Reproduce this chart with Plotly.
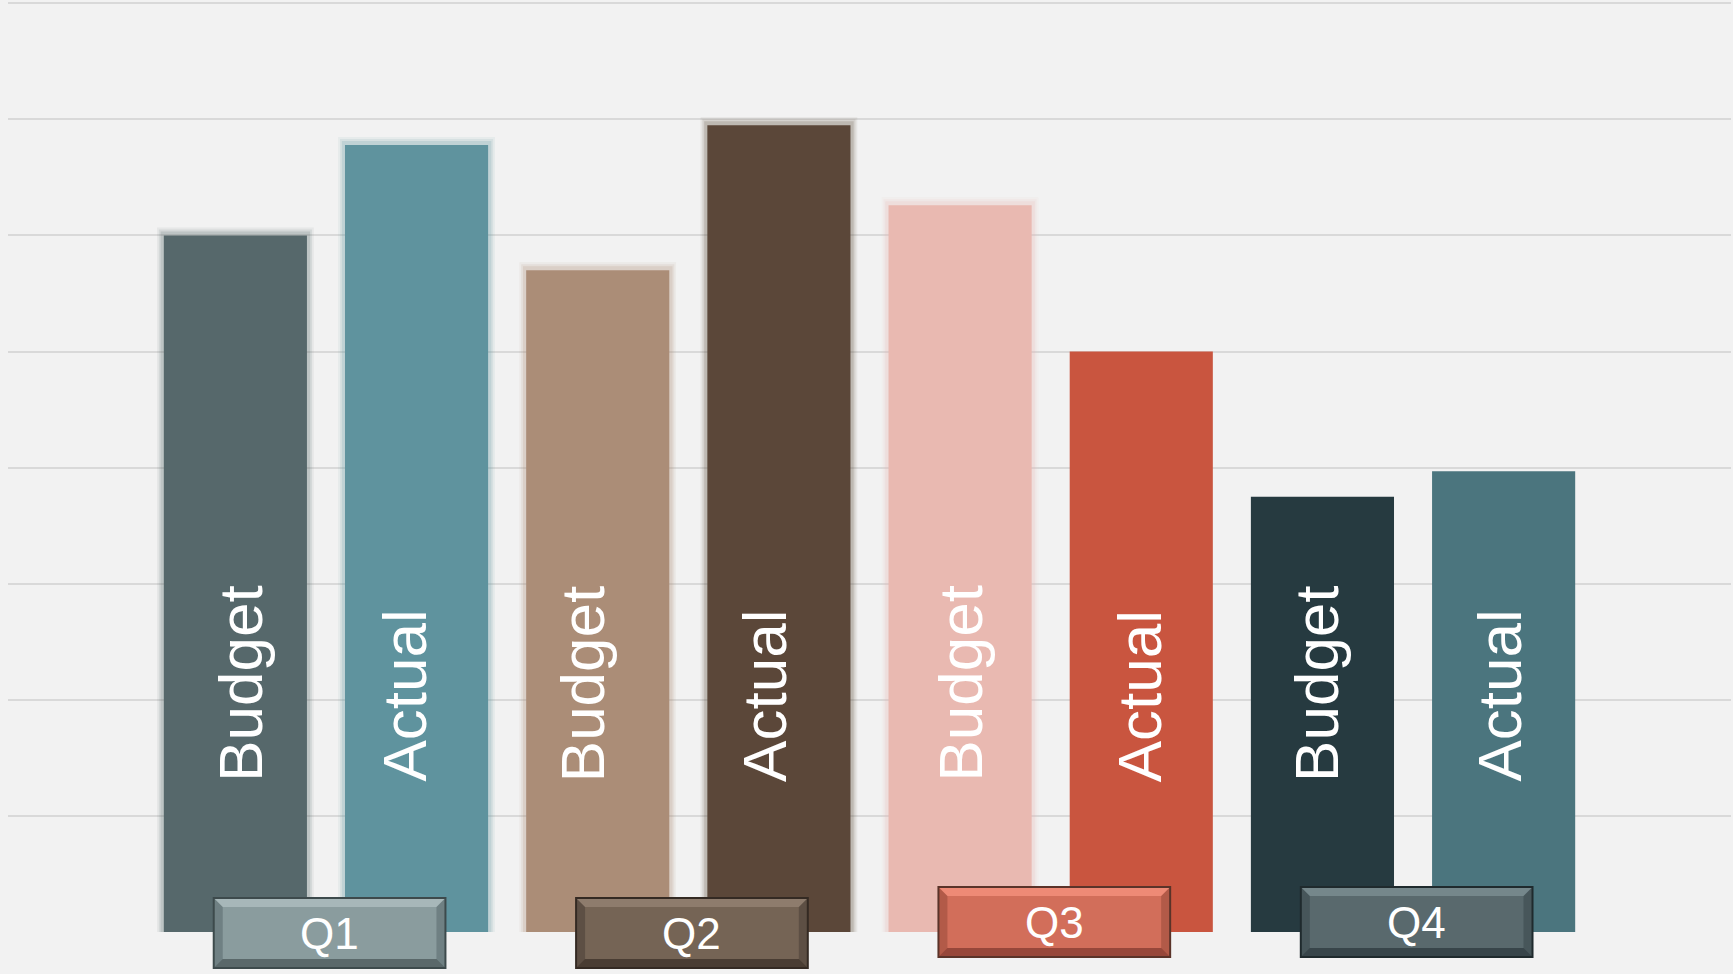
import plotly.graph_objects as go

# ---------------- data ----------------
quarters = ["Q1", "Q2", "Q3", "Q4"]
series_names = ["Budget", "Actual"]
budget = [6.0, 5.7, 6.26, 3.75]
actual = [6.78, 6.95, 5.0, 3.97]

# ---------------- styles ----------------
budget_colors = ["#56686b", "#ab8d77", "#e9b9b1", "#263a40"]
actual_colors = ["#5f939e", "#5b4739", "#c9553f", "#4b757e"]
budget_glow = [True, True, True, False]
actual_glow = [True, True, False, False]
# horizontal nudges (px) of the in-bar labels, in bar order
label_xshift = [5, -12, -15, -14, 0, -1, -6, -4]
# box colours: (border, side, top bevel, bottom bevel, face)
box_styles = [
    ("#3d4a4c", "#6f8083", "#a7b7b9", "#5a686a", "#8a9c9e"),
    ("#342a23", "#5d4f44", "#8e7c6d", "#4a3d33", "#756455"),
    ("#5a3329", "#b25a48", "#ee8a76", "#97473a", "#d26e5a"),
    ("#1f2a2d", "#47565a", "#75878b", "#38454a", "#59696d"),
]
box_lift_px = [0, 0, 11, 11]

W_FIG, H_FIG = 1733, 974
M_L, M_R, M_T, M_B = 8, 2, 0, 42
PW = W_FIG - M_L - M_R
PH = H_FIG - M_T - M_B
X_RANGE = [-1.255, 8.255]
Y_TOP = 8
Y_RANGE = [0, Y_TOP * PH / (PH - 3.3)]
BAR_W = 0.79

# ---------------- build ----------------
cats, vals, cols, glows, labels = [], [], [], [], []
for i, q in enumerate(quarters):
    for s, v, c, g in ((series_names[0], budget[i], budget_colors[i], budget_glow[i]),
                       (series_names[1], actual[i], actual_colors[i], actual_glow[i])):
        cats.append(f"{q} {s}")
        vals.append(v)
        cols.append(c)
        glows.append(g)
        labels.append(s)


def rgba(hexc, a):
    h = hexc.lstrip("#")
    r, g, b = int(h[0:2], 16), int(h[2:4], 16), int(h[4:6], 16)
    return f"rgba({r},{g},{b},{a})"


fig = go.Figure()

# soft glow behind some bars
unit_px = PH / (Y_RANGE[1] - Y_RANGE[0])
for wmul, alpha, lift_px in ((0.865, 0.08, 8), (0.845, 0.12, 6), (0.825, 0.18, 4)):
    gx = [c for c, g in zip(cats, glows) if g]
    gy = [v + lift_px / unit_px for v, g in zip(vals, glows) if g]
    gc = [rgba(c, alpha) for c, g in zip(cols, glows) if g]
    fig.add_trace(go.Bar(x=gx, y=gy, width=wmul, marker=dict(color=gc, line=dict(width=0)),
                         hoverinfo="skip", showlegend=False))

fig.add_trace(go.Bar(x=cats, y=vals, width=BAR_W,
                     marker=dict(color=cols, line=dict(width=0)),
                     showlegend=False))

# rotated labels inside bars
for c, lab, dx in zip(cats, labels, label_xshift):
    fig.add_annotation(x=c, y=1.275, xref="x", yref="y", text=lab, showarrow=False,
                       textangle=-90, xanchor="center", yanchor="bottom", xshift=dx,
                       font=dict(family="Liberation Sans, Arial, sans-serif", size=62, color="white"))


def xpx(xd):
    return M_L + (xd - X_RANGE[0]) / (X_RANGE[1] - X_RANGE[0]) * PW


def to_px(px):
    return (px - M_L) / PW


def to_py(py):
    return (M_T + PH - py) / PH


def rect_path(x0, y0, x1, y1):
    return (f"M{to_px(x0)},{to_py(y0)} L{to_px(x1)},{to_py(y0)} "
            f"L{to_px(x1)},{to_py(y1)} L{to_px(x0)},{to_py(y1)} Z")


def poly_path(pts):
    s = " L".join(f"{to_px(a)},{to_py(b)}" for a, b in pts)
    return "M" + s + " Z"


BOX_W_UNITS = 1.29
BOX_H_PX = 72
base_px = M_T + PH
for i, q in enumerate(quarters):
    border, side, top, bot, face = box_styles[i]
    cx = xpx(2 * i + 0.5 + 0.02)
    half = BOX_W_UNITS / 2 * PW / (X_RANGE[1] - X_RANGE[0])
    l, r = cx - half, cx + half
    t = base_px - 35 - box_lift_px[i]
    b = t + BOX_H_PX
    e, bv = 2, 8
    shp = dict(type="path", xref="paper", yref="paper", line=dict(width=0), layer="above")
    fig.add_shape(path=rect_path(l, t, r, b), fillcolor=border, **shp)
    fig.add_shape(path=rect_path(l + e, t + e, r - e, b - e), fillcolor=side, **shp)
    fig.add_shape(path=poly_path([(l + e, t + e), (r - e, t + e), (r - e - bv, t + e + bv), (l + e + bv, t + e + bv)]),
                  fillcolor=top, **shp)
    fig.add_shape(path=poly_path([(l + e, b - e), (r - e, b - e), (r - e - bv, b - e - bv), (l + e + bv, b - e - bv)]),
                  fillcolor=bot, **shp)
    fig.add_shape(path=rect_path(l + e + bv, t + e + bv, r - e - bv, b - e - bv), fillcolor=face, **shp)
    fig.add_annotation(x=to_px(cx), y=to_py((t + b) / 2), xref="paper", yref="paper", text=q,
                       showarrow=False, xanchor="center", yanchor="middle",
                       font=dict(family="Liberation Sans, Arial, sans-serif", size=44, color="white"))

fig.update_layout(
    width=W_FIG, height=H_FIG,
    margin=dict(l=M_L, r=M_R, t=M_T, b=M_B),
    paper_bgcolor="#f2f2f2", plot_bgcolor="#f2f2f2",
    barmode="overlay", showlegend=False,
    xaxis=dict(type="category", categoryorder="array", categoryarray=cats, range=X_RANGE,
               showticklabels=False, showgrid=False, zeroline=False, showline=False, ticks=""),
    yaxis=dict(range=Y_RANGE, tick0=0, dtick=1, showticklabels=False, showgrid=True,
               gridcolor="#d9d9d9", gridwidth=1.5, zeroline=False, showline=False, ticks=""),
)

fig.write_html("out.html", config={"displayModeBar": False})

# remove the browser's default page margin so the figure fills the window
with open("out.html", "r", encoding="utf-8") as f:
    html = f.read()
html = html.replace("<head>", "<head><style>html,body{margin:0;padding:0;background:#f2f2f2;overflow:hidden;}</style>", 1)
with open("out.html", "w", encoding="utf-8") as f:
    f.write(html)
